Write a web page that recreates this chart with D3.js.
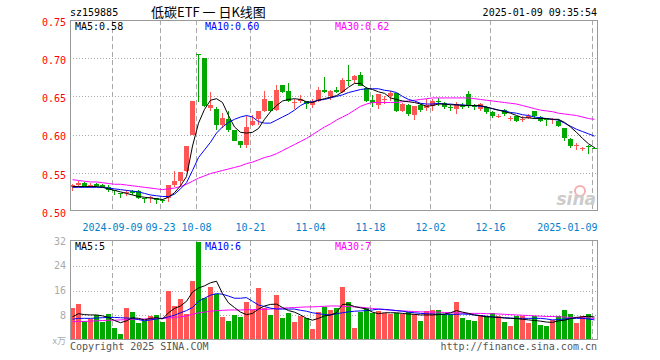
<!DOCTYPE html>
<html>
<head>
<meta charset="utf-8">
<script src="https://cdn.jsdelivr.net/npm/d3@7/dist/d3.min.js"></script>
<style>
body { margin: 0; background: #fff; }
text { font-family: "DejaVu Sans Mono", monospace; font-size: 10px; }
</style>
</head>
<body>
<svg width="660" height="360"></svg>
<script>
// trading days shown
var dates = ['2024-08-29','2024-08-30','2024-09-02','2024-09-03','2024-09-04','2024-09-05','2024-09-06','2024-09-09','2024-09-10','2024-09-11',
  '2024-09-12','2024-09-13','2024-09-18','2024-09-19','2024-09-20','2024-09-23','2024-09-24','2024-09-25','2024-09-26','2024-09-27',
  '2024-09-30','2024-10-08','2024-10-09','2024-10-10','2024-10-11','2024-10-14','2024-10-15','2024-10-16','2024-10-17','2024-10-18',
  '2024-10-21','2024-10-22','2024-10-23','2024-10-24','2024-10-25','2024-10-28','2024-10-29','2024-10-30','2024-10-31','2024-11-01',
  '2024-11-04','2024-11-05','2024-11-06','2024-11-07','2024-11-08','2024-11-11','2024-11-12','2024-11-13','2024-11-14','2024-11-15',
  '2024-11-18','2024-11-19','2024-11-20','2024-11-21','2024-11-22','2024-11-25','2024-11-26','2024-11-27','2024-11-28','2024-11-29',
  '2024-12-02','2024-12-03','2024-12-04','2024-12-05','2024-12-06','2024-12-09','2024-12-10','2024-12-11','2024-12-12','2024-12-13',
  '2024-12-16','2024-12-17','2024-12-18','2024-12-19','2024-12-20','2024-12-23','2024-12-24','2024-12-25','2024-12-26','2024-12-27',
  '2024-12-30','2024-12-31','2025-01-02','2025-01-03','2025-01-06','2025-01-07','2025-01-08','2025-01-09'];

var open = [.532,.534,.536,.533,.535,.534,.532,.527,.524,.523, .526,.526,.517,.517,.517,.515,.517,.534,.539,.552,
  .600,.706,.700,.635,.633,.612,.621,.606,.591,.586, .613,.621,.631,.644,.632,.665,.657,.642,.644,.644,
  .639,.644,.658,.651,.659,.656,.672,.672,.678,.661, .645,.639,.646,.651,.655,.631,.639,.626,.639,.635,
  .638,.644,.642,.636,.633,.638,.653,.638,.633,.636, .630,.624,.632,.621,.624,.620,.622,.631,.623,.620,
  .620,.618,.608,.594,.585,.582,.585,.583];
var high = [.535,.539,.538,.536,.536,.535,.534,.528,.524,.527, .528,.528,.517,.519,.517,.516,.534,.552,.551,.585,
  .644,.706,.700,.656,.636,.628,.631,.606,.592,.625, .626,.631,.657,.644,.665,.665,.668,.646,.652,.644,
  .646,.662,.675,.658,.662,.674,.691,.678,.682,.662, .652,.653,.651,.657,.655,.642,.640,.638,.640,.647,
  .646,.648,.643,.639,.643,.641,.657,.640,.642,.638, .631,.627,.633,.625,.625,.624,.627,.631,.624,.622,
  .622,.620,.609,.595,.589,.584,.586,.584];
var low = [.526,.532,.532,.530,.532,.531,.525,.521,.517,.519, .521,.516,.511,.510,.509,.511,.512,.532,.532,.551,
  .600,.643,.636,.631,.606,.609,.604,.591,.583,.583, .611,.612,.630,.630,.631,.654,.643,.634,.642,.633,
  .635,.643,.654,.645,.655,.654,.664,.668,.663,.643, .636,.634,.640,.644,.630,.630,.625,.619,.630,.631,
  .631,.637,.633,.631,.627,.633,.635,.632,.631,.627, .622,.622,.625,.618,.616,.617,.621,.621,.617,.611,
  .614,.610,.592,.582,.580,.578,.574,.581];
var close = [.534,.537,.533,.534,.533,.532,.527,.526,.523,.525, .523,.517,.516,.518,.515,.513,.534,.539,.551,.585,
  .644,.706,.638,.639,.612,.622,.606,.592,.586,.610, .618,.631,.646,.631,.658,.656,.644,.643,.647,.640,
  .643,.658,.656,.657,.656,.672,.671,.677,.664,.644, .642,.653,.647,.654,.631,.640,.627,.638,.632,.639,
  .644,.643,.636,.635,.640,.637,.639,.636,.640,.629, .625,.625,.627,.622,.618,.621,.625,.624,.618,.620,
  .621,.611,.596,.585,.586,.582,.584,.582];
// up/down colour as drawn (1 = red, 0 = green)
var upDay = [1,1,0,1,0,0,0,0,0,1, 0,0,0,1,0,0,1,1,1,1, 1,0,0,1,0,1,0,0,0,1, 1,1,1,0,1,0,0,1,1,0,
  1,1,0,1,0,1,0,1,0,0, 0,1,1,1,0,1,0,1,0,1, 1,0,0,0,1,0,0,0,1,0, 0,1,0,1,0,1,1,0,0,0, 1,0,0,0,1,1,0,0];
// volume, 万
var volume = [10.4,11.7,6.1,6.7,8.1,5.9,8.4,4.0,2.0,10.4, 9.1,5.5,6.3,7.8,8.1,5.9,15.8,11.0,13.3,8.5,
  19.0,31.7,13.6,17.1,15.0,7.4,6.1,8.1,7.4,12.2, 9.6,16.8,10.5,8.1,14.5,7.2,8.7,5.8,7.8,7.1,
  3.5,9.0,10.8,9.7,10.4,17.1,12.2,3.9,9.1,10.5, 8.7,9.3,8.8,8.4,8.6,8.4,9.1,8.4,6.1,9.3,
  9.7,9.7,8.5,8.5,12.2,7.2,6.6,6.1,8.1,7.9, 8.7,7.9,5.8,4.5,7.9,7.8,5.5,7.8,4.8,4.5,
  6.6,7.8,9.7,8.4,5.5,7.7,8.4,0.3];

// moving averages
var ma5 = [.532,.532,.532,.532,.532,.531,.529,.527,.525,.523, .521,.519,.518,.517,.516,.515,.518,.524,.533,.545,
  .585,.615,.633,.645,.647,.642,.625,.610,.603,.602, .603,.608,.620,.630,.638,.644,.646,.647,.646,.643,
  .642,.645,.647,.649,.651,.656,.662,.667,.667,.661, .659,.656,.654,.648,.646,.644,.643,.642,.640,.637,
  .638,.640,.640,.639,.639,.638,.638,.638,.638,.636, .634,.632,.630,.628,.625,.622,.622,.621,.621,.621,
  .620,.620,.616,.610,.603,.595,.588,.583];
var ma10 = [.531,.531,.531,.531,.531,.531,.530,.529,.528,.527, .526,.525,.523,.521,.520,.519,.519,.522,.529,.537,
  .553,.570,.580,.590,.602,.610,.616,.620,.623,.625, .623,.617,.615,.615,.619,.623,.627,.632,.638,.642,
  .643,.645,.646,.648,.650,.652,.655,.657,.659,.660, .660,.660,.658,.657,.655,.650,.646,.644,.641,.640,
  .640,.641,.640,.640,.639,.639,.638,.638,.637,.636, .634,.632,.631,.629,.628,.626,.625,.623,.622,.621,
  .620,.619,.615,.611,.607,.604,.601,.598];
var ma30 = [.541,.540,.539,.538,.538,.537,.536,.535,.535,.534, .533,.532,.531,.530,.529,.528,.529,.530,.532,.535,
  .539,.543,.546,.549,.551,.553,.555,.557,.559,.562, .564,.567,.570,.572,.575,.579,.583,.587,.591,.595,
  .600,.605,.610,.614,.619,.623,.627,.632,.637,.640, .642,.642,.642,.642,.642,.643,.644,.645,.646,.647,
  .648,.648,.648,.648,.648,.648,.648,.647,.646,.645, .644,.643,.642,.641,.640,.638,.636,.634,.632,.631,
  .630,.628,.627,.626,.625,.623,.621,.620];
var vma5 = [7.5,8.5,8.2,8.1,8.1,7.8,7.3,6.3,5.6,6.2, 7.2,7.0,6.5,7.0,7.2,6.8,8.8,10.2,11.0,12.5,
  15.5,16.8,17.5,18.5,19.0,15.0,12.0,10.5,9.0,8.2, 8.6,10.0,11.0,11.5,11.6,10.5,9.5,9.0,8.1,7.0,
  6.4,7.0,7.8,8.1,8.8,11.5,11.6,10.8,10.4,10.0, 9.0,8.5,8.8,8.8,8.8,8.6,8.4,8.3,8.1,8.1,
  8.1,8.2,8.4,8.8,9.5,9.0,8.6,8.1,7.8,7.5, 7.4,7.3,7.1,7.0,6.9,6.7,6.5,6.3,6.1,5.8,
  5.7,6.2,6.4,6.9,7.3,7.5,7.7,7.4];
var vma10 = [6.7,7.0,7.0,7.0,7.1,7.2,7.3,7.3,7.2,7.1, 7.0,6.6,6.2,6.5,6.8,7.0,7.5,8.0,8.8,9.5,
  10.5,12.5,13.5,14.5,15.0,14.8,14.2,13.5,13.5,13.7, 12.5,11.3,10.8,10.3,10.0,10.0,10.0,10.0,9.6,9.3,
  8.8,8.5,8.2,8.1,8.5,8.8,9.1,9.3,9.4,9.5, 9.7,10.0,9.9,9.7,9.5,9.3,9.0,8.8,8.6,8.5,
  8.4,8.3,8.3,8.3,8.3,8.4,8.3,8.1,7.9,7.7, 7.5,7.3,7.2,7.1,7.0,7.0,7.0,7.0,7.0,6.8,
  6.5,6.6,6.8,7.0,7.0,7.0,6.8,6.5];
var vma30 = [5.9,6.0,6.0,6.1,6.2,6.3,6.4,6.4,6.5,6.6, 6.7,6.7,6.8,6.9,7.0,7.0,7.1,7.3,7.5,7.8,
  8.3,8.8,9.0,9.3,9.5,9.6,9.7,9.7,9.7,9.8, 9.8,9.9,9.9,10.0,10.2,10.3,10.4,10.5,10.6,10.7,
  10.7,10.8,10.9,11.0,11.0,10.9,10.8,10.7,10.6,10.4, 10.2,10.0,9.8,9.7,9.5,9.4,9.3,9.2,9.1,9.1,
  9.0,9.0,8.9,8.8,8.8,8.7,8.6,8.6,8.6,8.5, 8.5,8.4,8.3,8.2,8.1,8.0,7.9,7.8,7.7,7.6,
  7.6,7.5,7.4,7.3,7.3,7.2,7.1,7.0];

var priceTicks = [0.50, 0.55, 0.60, 0.65, 0.70, 0.75];
var volTicks = [8, 16, 24, 32];
var tickDates = ['2024-09-09','2024-09-23','2024-10-08','2024-10-21','2024-11-04','2024-11-18','2024-12-02','2024-12-16','2025-01-09'];
var tickLabels = ['2024-09-09','09-23','10-08','10-21','11-04','11-18','12-02','12-16','2025-01-09'];

var RED = '#ff5555', GREEN = '#00a800', GRID = '#aaaaaa';

var svg = d3.select('svg');

var x = d3.scaleBand().domain(dates).range([70, 598]);
var y = d3.scaleLinear().domain([0.50, 0.75]).range([211, 20]);
var yv = d3.scaleLinear().domain([0, 32]).range([340, 241]);

function mid(d) { return x(d) + 2.5; }

// header
svg.append('text').attr('x', 70).attr('y', 16).text('sz159885');
svg.append('text').attr('x', 151).attr('y', 17)
  .style('font-family', '"Noto Sans CJK SC", sans-serif').style('font-size', '13px')
  .text('低碳ETF 一 日K线图');
svg.append('text').attr('x', 597).attr('y', 16).style('text-anchor', 'end').text('2025-01-09 09:35:54');

// grids
function hgrid(vals, scale) {
  svg.append('g').selectAll('line').data(vals).enter().append('line')
    .attr('x1', 70).attr('x2', 598)
    .attr('y1', function (d) { return Math.round(scale(d)) + 0.5; })
    .attr('y2', function (d) { return Math.round(scale(d)) + 0.5; })
    .attr('stroke', GRID).attr('stroke-dasharray', '1,2');
}
hgrid([0.55, 0.60, 0.65, 0.70], y);
hgrid([8, 16, 24], yv);

[[20, 211], [241, 340]].forEach(function (r) {
  svg.append('g').selectAll('line').data(tickDates).enter().append('line')
    .attr('x1', function (d) { return x(d) + 0.5; })
    .attr('x2', function (d) { return x(d) + 0.5; })
    .attr('y1', r[0]).attr('y2', r[1])
    .attr('stroke', GRID).attr('stroke-dasharray', '5,3');
});

// candles
var candles = svg.append('g').attr('shape-rendering', 'crispEdges');
candles.selectAll('line').data(dates).enter().append('line')
  .attr('x1', function (d) { return mid(d); })
  .attr('x2', function (d) { return mid(d); })
  .attr('y1', function (d, i) { return y(high[i]); })
  .attr('y2', function (d, i) { return y(low[i]); })
  .attr('stroke', function (d, i) { return upDay[i] ? RED : GREEN; });
candles.selectAll('rect').data(dates).enter().append('rect')
  .attr('x', function (d) { return x(d); })
  .attr('width', 5)
  .attr('y', function (d, i) { return y(Math.max(open[i], close[i])); })
  .attr('height', function (d, i) { return Math.max(1, Math.abs(y(open[i]) - y(close[i]))); })
  .attr('fill', function (d, i) { return upDay[i] ? RED : GREEN; });

// volume bars
svg.append('g').attr('shape-rendering', 'crispEdges')
  .selectAll('rect').data(dates).enter().append('rect')
  .attr('x', function (d) { return x(d); })
  .attr('width', 5)
  .attr('y', function (d, i) { return yv(volume[i]); })
  .attr('height', function (d, i) { return yv(0) - yv(volume[i]); })
  .attr('fill', function (d, i) { return upDay[i] ? RED : GREEN; });

// moving average lines
function maLine(vals, scale, color) {
  var line = d3.line()
    .x(function (d, i) { return mid(dates[i]); })
    .y(function (d) { return scale(d); });
  svg.append('path').datum(vals).attr('d', line)
    .attr('fill', 'none').attr('stroke', color).attr('stroke-width', 1);
}
maLine(ma30, y, '#ff00ff');
maLine(ma10, y, '#0000ff');
maLine(ma5, y, '#000000');
maLine(vma30, yv, '#ff00ff');
maLine(vma10, yv, '#0000ff');
maLine(vma5, yv, '#000000');

// sina watermark
svg.append('circle').attr('cx', 580).attr('cy', 191).attr('r', 5)
  .attr('fill', 'none').attr('stroke', '#f4b0b0').attr('stroke-width', 2);
svg.append('text').attr('x', 596).attr('y', 205).style('text-anchor', 'end')
  .style('font-family', '"DejaVu Sans", sans-serif').style('font-size', '17px')
  .style('font-style', 'italic').style('font-weight', 'bold').attr('fill', '#cccccc').text('sina');

// borders
svg.append('rect').attr('x', 70.5).attr('y', 20.5).attr('width', 527).attr('height', 190)
  .attr('fill', 'none').attr('stroke', '#999');
svg.append('rect').attr('x', 70.5).attr('y', 240.5).attr('width', 527).attr('height', 99)
  .attr('fill', 'none').attr('stroke', '#999');

// axes
var ya = svg.append('g').attr('transform', 'translate(66,2)')
  .call(d3.axisLeft(y).tickValues(priceTicks).tickSize(0).tickPadding(0).tickFormat(d3.format('.2f')));
ya.select('.domain').remove();
ya.selectAll('text').attr('fill', '#ff0000').style('font-size', '10px').style('font-family', '"DejaVu Sans Mono", monospace');

var va = svg.append('g').attr('transform', 'translate(66,0)')
  .call(d3.axisLeft(yv).tickValues(volTicks).tickSize(0).tickPadding(0));
va.select('.domain').remove();
va.selectAll('text').attr('fill', '#aaaaaa').style('font-size', '10px').style('font-family', '"DejaVu Sans Mono", monospace');
svg.append('text').attr('x', 66).attr('y', 344).style('text-anchor', 'end').attr('fill', '#aaaaaa')
  .style('font-family', '"Noto Sans CJK SC", sans-serif').style('font-size', '9px').text('x万');

var xa = svg.append('g').attr('transform', 'translate(-2.5,211)')
  .call(d3.axisBottom(x).tickValues(tickDates).tickSize(0).tickPadding(13)
    .tickFormat(function (d, i) { return tickLabels[i]; }));
xa.select('.domain').remove();
xa.selectAll('text').attr('fill', '#0080cc').style('font-size', '10px').style('font-family', '"DejaVu Sans Mono", monospace');
xa.selectAll('text').filter(function (d) { return d === '2025-01-09'; })
  .style('text-anchor', 'end').attr('x', 5);

// MA legends
function legend(xp, yp, txt, color) {
  svg.append('text').attr('x', xp).attr('y', yp).attr('fill', color).text(txt);
}
legend(75, 30, 'MA5:0.58', '#000000');
legend(205, 30, 'MA10:0.60', '#0000ff');
legend(335, 30, 'MA30:0.62', '#ff00ff');
legend(75, 250, 'MA5:5', '#000000');
legend(205, 250, 'MA10:6', '#0000ff');
legend(335, 250, 'MA30:7', '#ff00ff');

// footer
svg.append('text').attr('x', 70).attr('y', 350).attr('fill', '#555').text('Copyright 2025 SINA.COM');
svg.append('text').attr('x', 597).attr('y', 350).attr('fill', '#555').style('text-anchor', 'end').text('http://finance.sina.com.cn');
</script>
</body>
</html>
